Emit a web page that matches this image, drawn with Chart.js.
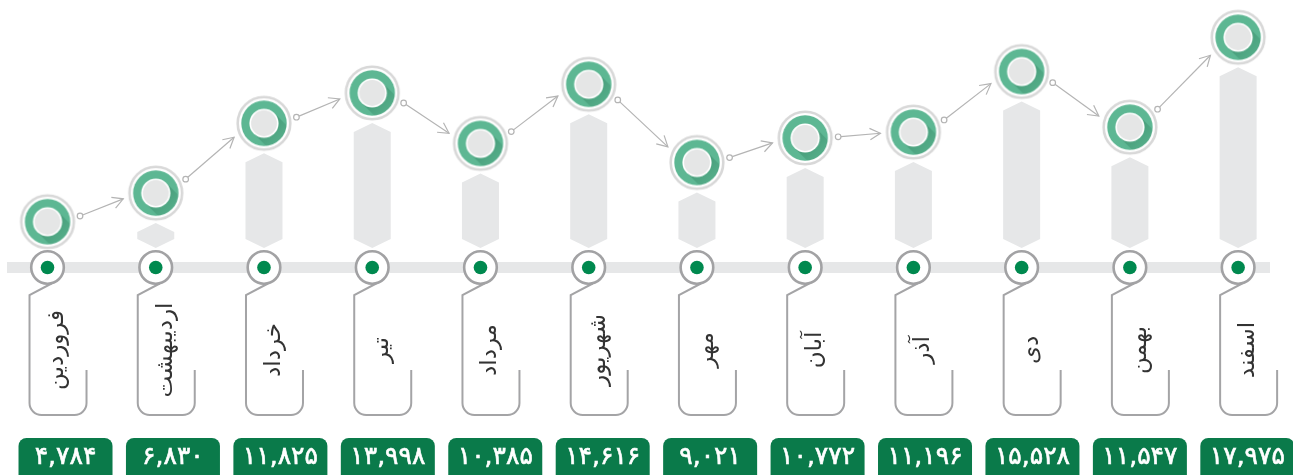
<!DOCTYPE html>
<html>
<head>
<meta charset="utf-8">
<script src="https://cdn.jsdelivr.net/npm/chart.js@4.4.1/dist/chart.umd.min.js"></script>
<style>
  body { margin: 0; background: #fff; }
  #wrap { width: 1293px; height: 475px; position: relative; }
</style>
</head>
<body>
<div id="wrap"><canvas id="monthChart"></canvas></div>
<script>
const months = ['فروردین', 'اردیبهشت', 'خرداد', 'تیر', 'مرداد', 'شهریور', 'مهر', 'آبان', 'آذر', 'دی', 'بهمن', 'اسفند'];
const totals = [4784, 6830, 11825, 13998, 10385, 14616, 9021, 10772, 11196, 15528, 11547, 17975];

// 4784 -> ۴,۷۸۴
const toPersian = (n) => n.toLocaleString('en-US').replace(/\d/g, d => '۰۱۲۳۴۵۶۷۸۹'[d]);
const valueLabels = totals.map(toPersian);

const TIMELINE_Y = 267.5;
const FONT = '"DejaVu Sans", sans-serif';

// the green badge used as point style
function makeBadge() {
  const c = document.createElement('canvas');
  c.width = 60; c.height = 60;
  const g = c.getContext('2d');
  const cx = 30, cy = 30;
  g.beginPath(); g.arc(cx, cy, 26.3, 0, Math.PI * 2);
  g.fillStyle = '#fff'; g.fill();
  g.lineWidth = 2.6; g.strokeStyle = '#d8d8d8'; g.stroke();

  g.beginPath(); g.arc(cx, cy, 22.7, 0, Math.PI * 2);
  g.fillStyle = '#5db793'; g.fill();

  // long shadow of the inner disc
  g.save();
  g.beginPath(); g.arc(cx, cy, 22.7, 0, Math.PI * 2); g.clip();
  const k = Math.SQRT1_2 * 14.5;
  g.beginPath();
  g.moveTo(cx - k, cy + k);
  g.lineTo(cx - k + 30, cy + k + 30);
  g.lineTo(cx + k + 30, cy - k + 30);
  g.lineTo(cx + k, cy - k);
  g.closePath();
  const grad = g.createLinearGradient(cx, cy, cx + 18, cy + 18);
  grad.addColorStop(0, 'rgba(40,120,85,0.45)');
  grad.addColorStop(1, 'rgba(40,120,85,0.12)');
  g.fillStyle = grad; g.fill();
  g.restore();

  g.beginPath(); g.arc(cx, cy, 14.6, 0, Math.PI * 2);
  g.fillStyle = '#fff'; g.fill();
  g.beginPath(); g.arc(cx, cy, 12.9, 0, Math.PI * 2);
  g.fillStyle = '#e5e6e6'; g.fill();
  return c;
}

const timeline = {
  id: 'timeline',
  beforeDatasetsDraw(chart) {
    const ctx = chart.ctx;
    const xs = chart.scales.x;
    const pts = chart.getDatasetMeta(0).data;
    ctx.save();

    // gray band
    ctx.fillStyle = '#e6e7e8';
    ctx.fillRect(7, TIMELINE_Y - 5.5, 1263, 11);

    // hexagon columns under each badge
    const bottom = TIMELINE_Y - 19.5;
    pts.forEach(p => {
      const top = p.y + 30;
      const h = bottom - top;
      if (h < 4) return;
      const hw = 18.5;
      const s = Math.min(9, h / 2);
      ctx.beginPath();
      ctx.moveTo(p.x, top);
      ctx.lineTo(p.x + hw, top + s);
      ctx.lineTo(p.x + hw, bottom - s);
      ctx.lineTo(p.x, bottom);
      ctx.lineTo(p.x - hw, bottom - s);
      ctx.lineTo(p.x - hw, top + s);
      ctx.closePath();
      ctx.fillStyle = '#e6e7e8';
      ctx.fill();
    });

    // arrows between badges
    ctx.strokeStyle = '#b4b4b4';
    ctx.lineWidth = 1.2;
    for (let i = 0; i < pts.length - 1; i++) {
      const a = pts[i], b = pts[i + 1];
      const off = 0.2 * (b.y - a.y);
      const dx = Math.sqrt(33 * 33 - off * off);
      const sx = a.x + dx, sy = a.y + off;
      const ex = b.x - dx, ey = b.y - off;
      const ang = Math.atan2(ey - sy, ex - sx);
      ctx.beginPath();
      ctx.moveTo(sx + 2.8 * Math.cos(ang), sy + 2.8 * Math.sin(ang));
      ctx.lineTo(ex, ey);
      ctx.stroke();
      ctx.beginPath();
      ctx.moveTo(ex - 12 * Math.cos(ang - 0.5), ey - 12 * Math.sin(ang - 0.5));
      ctx.lineTo(ex, ey);
      ctx.lineTo(ex - 12 * Math.cos(ang + 0.5), ey - 12 * Math.sin(ang + 0.5));
      ctx.stroke();
      ctx.beginPath();
      ctx.arc(sx, sy, 2.8, 0, Math.PI * 2);
      ctx.fillStyle = '#fff'; ctx.fill(); ctx.stroke();
    }

    months.forEach((m, i) => {
      const x = xs.getPixelForValue(i);

      // tag outline
      ctx.strokeStyle = '#a4a4a6';
      ctx.lineWidth = 2;
      ctx.beginPath();
      ctx.moveTo(x + 4, TIMELINE_Y + 16);
      ctx.lineTo(x - 18, 295);
      ctx.lineTo(x - 18, 403);
      ctx.arcTo(x - 18, 415, x - 6, 415, 12);
      ctx.lineTo(x + 27, 415);
      ctx.arcTo(x + 39, 415, x + 39, 403, 12);
      ctx.lineTo(x + 39, 370);
      ctx.stroke();

      // timeline dot
      ctx.beginPath();
      ctx.arc(x, TIMELINE_Y, 16.3, 0, Math.PI * 2);
      ctx.fillStyle = '#fff'; ctx.fill();
      ctx.lineWidth = 2.6; ctx.strokeStyle = '#a2a2a4'; ctx.stroke();
      ctx.beginPath();
      ctx.arc(x, TIMELINE_Y, 6.8, 0, Math.PI * 2);
      ctx.fillStyle = '#00894f'; ctx.fill();

      // month name, rotated
      ctx.save();
      ctx.translate(x + 10, 350);
      ctx.rotate(-Math.PI / 2);
      ctx.direction = 'rtl';
      ctx.font = '23px ' + FONT;
      ctx.textAlign = 'center';
      ctx.textBaseline = 'middle';
      ctx.fillStyle = '#333';
      ctx.fillText(m, 0, 0);
      ctx.restore();

      // value box
      const bx = x + 18 - 0.8 * i;
      ctx.beginPath();
      ctx.roundRect(bx - 47, 438, 94, 45, 8);
      ctx.fillStyle = '#0a7a4a'; ctx.fill();
      ctx.font = '25px ' + FONT;
      ctx.textAlign = 'center';
      ctx.textBaseline = 'middle';
      ctx.fillStyle = '#fff';
      ctx.strokeStyle = '#fff';
      ctx.lineWidth = 0.6;
      ctx.fillText(valueLabels[i], bx, 457);
      ctx.strokeText(valueLabels[i], bx, 457);
    });
    ctx.restore();
  }
};

new Chart(document.getElementById('monthChart'), {
  type: 'scatter',
  data: {
    datasets: [{
      data: totals.map((v, i) => ({ x: i, y: v })),
      pointStyle: makeBadge(),
      pointRadius: 27,
      showLine: false,
      clip: false
    }]
  },
  options: {
    responsive: true,
    maintainAspectRatio: false,
    animation: false,
    events: [],
    layout: { padding: 0, autoPadding: false },
    plugins: { legend: { display: false }, tooltip: { enabled: false } },
    scales: {
      x: { type: 'linear', min: -0.439, max: 11.507, display: false },
      y: { type: 'linear', min: -13334, max: 20643, display: false }
    }
  },
  plugins: [timeline]
});
</script>
</body>
</html>
